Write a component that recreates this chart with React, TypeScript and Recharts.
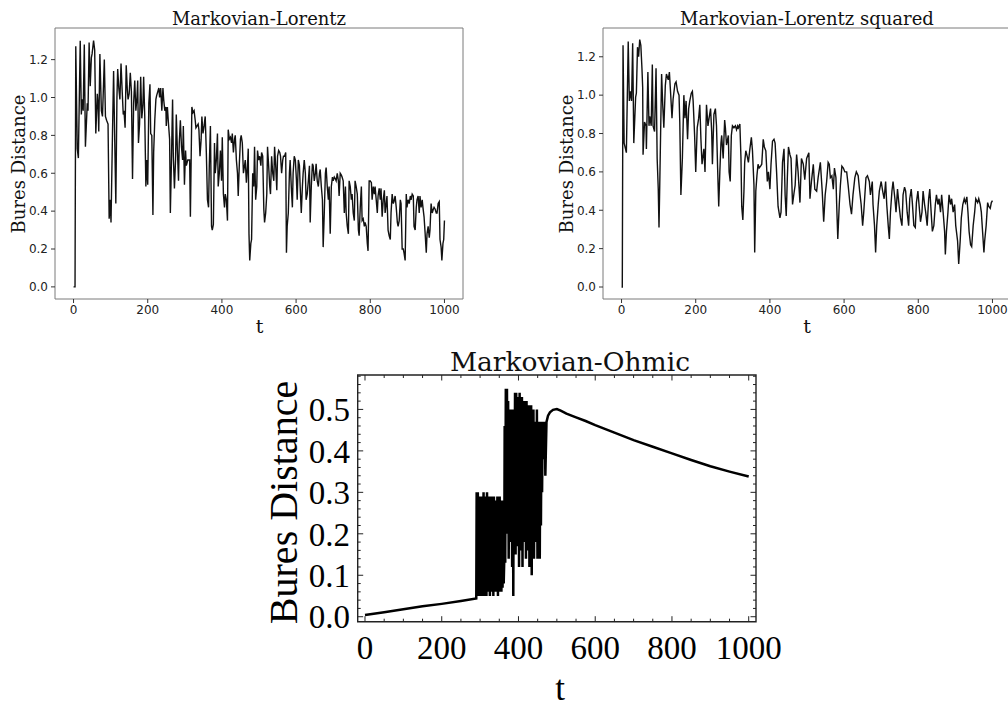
import { Line, LineChart, ReferenceArea, ReferenceLine, XAxis, YAxis } from "recharts";

// [t, Bures distance]
const lorentzPoints: [number, number][] = [
  [0,0],[4,0],[6,1.27],[10,0.73],[13,0.68],[18,1.30],[21,0.91],[23,0.99],[26,0.93],[29,1.28],[32,0.74],[37,0.97],[39,0.93],[42,1.29],[45,1.06],[48,1.21],[50,1.23],[54,1.30],[57,1.25],[58,1.11],[60,0.81],[64,1.02],[66,0.97],[68,0.82],[71,1.23],[75,0.93],[78,0.90],[83,1.20],[86,0.90],[89,0.88],[93,0.86],[96,0.36],[99,0.46],[101,0.34],[105,0.81],[108,1.14],[111,0.78],[114,0.44],[117,1.00],[119,1.15],[122,1.05],[125,0.99],[128,1.18],[131,1.04],[134,0.91],[136,0.93],[139,0.84],[142,1.17],[145,1.04],[147,0.99],[150,1.02],[153,1.13],[156,1.03],[159,0.57],[162,0.97],[165,1.09],[168,0.93],[171,1.00],[173,1.09],[175,0.76],[178,0.86],[181,1.11],[184,0.89],[187,0.96],[189,1.11],[192,0.90],[195,0.53],[197,0.67],[200,0.54],[203,0.97],[206,1.07],[208,0.81],[211,0.80],[214,0.38],[216,0.71],[219,0.88],[222,0.99],[224,1.01],[227,1.03],[230,1.05],[232,1.00],[235,1.05],[238,0.93],[241,1.05],[243,0.99],[246,0.93],[249,0.95],[250,0.85],[253,0.95],[256,0.86],[259,0.78],[261,0.39],[264,0.67],[267,0.99],[269,0.69],[272,0.52],[275,0.67],[277,0.91],[280,0.72],[283,0.56],[285,0.76],[288,0.88],[291,0.74],[294,0.67],[296,0.85],[299,0.54],[302,0.72],[304,0.64],[308,0.67],[313,0.67],[315,0.37],[319,0.95],[322,0.92],[325,0.93],[328,0.88],[330,0.84],[333,0.85],[336,0.86],[338,0.83],[341,0.69],[344,0.78],[346,0.90],[349,0.81],[352,0.85],[355,0.90],[358,0.71],[361,0.46],[364,0.42],[366,0.64],[369,0.85],[372,0.32],[374,0.30],[377,0.33],[380,0.76],[382,0.60],[385,0.67],[388,0.81],[390,0.53],[393,0.60],[396,0.72],[399,0.56],[401,0.79],[404,0.49],[407,0.42],[409,0.49],[412,0.46],[415,0.35],[417,0.83],[420,0.78],[423,0.79],[426,0.76],[428,0.81],[431,0.71],[434,0.78],[436,0.80],[439,0.67],[442,0.60],[444,0.48],[447,0.65],[450,0.78],[452,0.80],[455,0.76],[458,0.60],[461,0.64],[463,0.67],[466,0.55],[469,0.64],[471,0.73],[473,0.28],[475,0.14],[478,0.23],[480,0.25],[483,0.60],[486,0.53],[488,0.74],[491,0.46],[494,0.53],[496,0.72],[499,0.67],[502,0.69],[505,0.64],[507,0.71],[510,0.69],[513,0.41],[515,0.34],[518,0.39],[521,0.49],[523,0.74],[526,0.64],[529,0.53],[531,0.49],[534,0.69],[537,0.60],[540,0.56],[542,0.74],[545,0.64],[548,0.51],[550,0.69],[553,0.72],[556,0.71],[558,0.69],[561,0.60],[564,0.67],[566,0.69],[569,0.69],[572,0.71],[574,0.18],[576,0.32],[579,0.39],[582,0.60],[584,0.67],[587,0.53],[590,0.42],[592,0.60],[595,0.69],[598,0.67],[601,0.56],[603,0.46],[606,0.67],[609,0.64],[611,0.53],[614,0.39],[617,0.53],[619,0.60],[622,0.67],[625,0.60],[627,0.46],[630,0.49],[633,0.56],[636,0.64],[638,0.34],[641,0.53],[644,0.65],[646,0.64],[649,0.56],[652,0.60],[654,0.65],[657,0.56],[660,0.53],[663,0.60],[665,0.62],[668,0.53],[671,0.46],[673,0.21],[676,0.39],[679,0.60],[681,0.63],[684,0.53],[687,0.46],[689,0.53],[692,0.28],[695,0.53],[698,0.58],[700,0.56],[703,0.58],[706,0.57],[708,0.56],[711,0.60],[714,0.56],[716,0.48],[719,0.60],[722,0.59],[724,0.58],[727,0.56],[730,0.39],[733,0.53],[735,0.39],[738,0.32],[741,0.28],[743,0.56],[746,0.53],[749,0.46],[751,0.49],[754,0.39],[757,0.35],[759,0.56],[762,0.53],[765,0.49],[768,0.30],[770,0.27],[773,0.42],[776,0.53],[778,0.35],[781,0.36],[784,0.32],[786,0.34],[789,0.32],[792,0.23],[794,0.19],[797,0.56],[800,0.56],[803,0.55],[805,0.46],[808,0.53],[811,0.49],[813,0.53],[816,0.46],[819,0.39],[821,0.48],[824,0.52],[827,0.46],[829,0.52],[832,0.37],[835,0.46],[838,0.51],[840,0.39],[843,0.44],[845,0.48],[848,0.30],[851,0.27],[854,0.25],[856,0.39],[859,0.49],[862,0.44],[864,0.45],[867,0.48],[870,0.42],[873,0.34],[875,0.32],[878,0.35],[881,0.46],[883,0.44],[886,0.20],[889,0.20],[891,0.18],[894,0.14],[897,0.49],[899,0.42],[902,0.46],[905,0.44],[908,0.48],[910,0.46],[913,0.49],[916,0.48],[918,0.32],[921,0.30],[924,0.42],[926,0.46],[929,0.48],[932,0.39],[934,0.48],[937,0.42],[940,0.46],[942,0.42],[945,0.37],[948,0.28],[951,0.18],[953,0.28],[956,0.32],[959,0.26],[961,0.30],[964,0.44],[967,0.39],[970,0.41],[972,0.42],[975,0.41],[978,0.39],[980,0.39],[983,0.44],[986,0.45],[988,0.25],[991,0.21],[993,0.14],[996,0.23],[998,0.25],[1000,0.35],
];

const lorentzSquaredPoints: [number, number][] = [
  [0,0],[2,0],[4,1.26],[7,0.75],[13,0.70],[18,1.28],[21,0.97],[24,1.02],[27,0.97],[30,1.27],[33,0.75],[38,0.99],[40,1.01],[43,1.25],[46,1.20],[49,1.29],[52,1.26],[55,1.14],[57,1.04],[58,0.69],[62,0.86],[66,0.84],[67,0.72],[71,1.12],[74,0.84],[76,0.89],[80,0.84],[83,1.16],[85,0.84],[89,0.81],[93,1.14],[96,0.67],[99,0.51],[101,0.31],[103,0.53],[108,1.11],[111,0.95],[114,0.83],[118,1.05],[121,1.11],[126,1.08],[129,1.12],[132,1.02],[136,0.88],[139,0.98],[144,1.06],[147,1.07],[151,1.02],[155,1.00],[157,0.86],[160,0.48],[164,0.67],[168,1.00],[171,0.88],[174,0.97],[178,0.77],[181,0.93],[184,0.97],[188,1.01],[191,1.02],[193,0.97],[197,0.79],[200,0.60],[204,0.83],[208,0.88],[211,0.95],[214,0.77],[217,0.64],[222,0.72],[225,0.60],[229,0.95],[233,0.84],[236,0.88],[240,0.93],[243,0.81],[245,0.64],[249,0.90],[253,0.93],[256,0.84],[259,0.62],[262,0.42],[265,0.60],[268,0.75],[270,0.79],[274,0.67],[278,0.87],[280,0.83],[283,0.74],[288,0.79],[290,0.60],[293,0.55],[296,0.79],[299,0.84],[303,0.83],[307,0.84],[310,0.82],[313,0.84],[315,0.83],[319,0.85],[322,0.67],[324,0.42],[327,0.35],[330,0.50],[332,0.65],[335,0.71],[339,0.68],[342,0.65],[346,0.72],[350,0.78],[353,0.71],[357,0.53],[359,0.18],[362,0.50],[365,0.58],[368,0.64],[371,0.62],[375,0.63],[378,0.64],[382,0.77],[385,0.73],[389,0.71],[393,0.55],[396,0.60],[400,0.51],[403,0.64],[407,0.76],[411,0.77],[414,0.75],[418,0.60],[422,0.42],[427,0.36],[430,0.39],[434,0.65],[438,0.72],[441,0.48],[444,0.37],[447,0.57],[450,0.73],[454,0.69],[457,0.67],[461,0.43],[465,0.49],[468,0.53],[472,0.69],[476,0.60],[481,0.44],[485,0.67],[490,0.64],[494,0.56],[499,0.67],[505,0.70],[508,0.46],[512,0.55],[517,0.64],[521,0.51],[526,0.50],[530,0.57],[536,0.65],[541,0.50],[545,0.34],[549,0.48],[553,0.55],[557,0.65],[560,0.64],[563,0.57],[567,0.58],[571,0.51],[574,0.62],[578,0.57],[580,0.43],[583,0.25],[587,0.43],[590,0.53],[594,0.63],[598,0.62],[602,0.60],[607,0.60],[611,0.53],[616,0.43],[620,0.38],[624,0.48],[629,0.57],[633,0.60],[638,0.58],[642,0.50],[646,0.43],[650,0.32],[653,0.39],[659,0.57],[663,0.58],[668,0.55],[671,0.48],[676,0.55],[678,0.43],[682,0.32],[685,0.18],[688,0.32],[692,0.43],[695,0.50],[700,0.55],[704,0.50],[708,0.46],[712,0.55],[715,0.43],[719,0.32],[722,0.25],[725,0.39],[729,0.50],[732,0.55],[737,0.46],[740,0.39],[744,0.51],[748,0.43],[752,0.36],[756,0.32],[759,0.48],[763,0.52],[766,0.50],[770,0.39],[774,0.32],[777,0.46],[781,0.51],[784,0.44],[788,0.32],[792,0.31],[795,0.44],[799,0.50],[802,0.43],[806,0.34],[810,0.39],[813,0.50],[817,0.43],[820,0.39],[824,0.32],[828,0.46],[831,0.51],[835,0.38],[838,0.29],[842,0.32],[846,0.43],[849,0.48],[853,0.43],[856,0.46],[860,0.39],[863,0.48],[867,0.39],[871,0.29],[873,0.17],[876,0.29],[880,0.39],[883,0.48],[887,0.43],[890,0.46],[894,0.39],[898,0.43],[901,0.32],[906,0.24],[909,0.12],[913,0.24],[916,0.36],[920,0.43],[924,0.46],[927,0.44],[931,0.47],[934,0.39],[937,0.29],[941,0.22],[944,0.21],[948,0.32],[952,0.39],[955,0.46],[960,0.44],[963,0.46],[967,0.43],[970,0.39],[974,0.27],[977,0.18],[979,0.24],[983,0.32],[987,0.44],[990,0.42],[994,0.41],[997,0.44],[1000,0.45],
];

const ohmicPoints: [number, number][] = [
  [0,0.004],[50,0.011],[100,0.018],[150,0.025],[200,0.031],[250,0.038],[290,0.044],
  [291,0.30],[292.5,0.05],[294,0.30],[295.5,0.21],[297,0.29],[298.5,0.05],[300,0.27],[301.5,0.06],[303,0.29],[304.5,0.05],[306,0.29],[307.5,0.07],[309,0.30],[310.5,0.05],[312,0.29],[313.5,0.06],[315,0.29],[316.5,0.05],[318,0.30],[319.5,0.07],[321,0.29],[322.5,0.06],[324,0.29],[325.5,0.05],[327,0.28],[328.5,0.07],[330,0.29],[331.5,0.06],[333,0.28],[334.5,0.05],[336,0.29],[337.5,0.07],[339,0.28],[340.5,0.06],[342,0.28],[343.5,0.07],[345,0.29],[346.5,0.05],[348,0.28],[349.5,0.06],[351,0.29],[352.5,0.07],[354,0.28],[355.5,0.06],[357,0.28],[358.5,0.07],[360,0.27],[361.5,0.08],[363,0.14],
  [364,0.46],[365.5,0.13],[367,0.55],[368.5,0.25],[370,0.55],[371.5,0.20],[373,0.52],[374.5,0.14],[376,0.50],[377.5,0.18],[379,0.46],[380.5,0.22],[382,0.50],[383.5,0.12],[385,0.49],[386.5,0.05],[388,0.50],[389.5,0.19],[391,0.54],[392.5,0.15],[394,0.54],[395.5,0.22],[397,0.50],[398.5,0.17],[400,0.53],[401.5,0.12],[403,0.54],[404.5,0.16],[406,0.49],[407.5,0.22],[409,0.53],[410.5,0.12],[412,0.50],[413.5,0.18],[415,0.52],[416.5,0.21],[418,0.48],[419.5,0.14],[421,0.52],[422.5,0.16],[424,0.49],[425.5,0.26],[427,0.51],[428.5,0.12],[430,0.50],[431.5,0.18],[433,0.51],[434.5,0.10],[436,0.47],[437.5,0.20],[439,0.50],[440.5,0.14],[442,0.47],[443.5,0.24],[445,0.46],[446.5,0.18],[448,0.50],[449.5,0.14],[451,0.47],[452.5,0.25],[454,0.46],[455.5,0.14],[457,0.47],[458.5,0.22],[460,0.46],[461.5,0.30],[463,0.47],[464.5,0.38],[466,0.47],[467.5,0.40],[469,0.47],[470,0.34],
  [473,0.47],[477,0.485],[482,0.493],[490,0.499],[500,0.501],[510,0.497],[525,0.49],[550,0.481],[575,0.472],[600,0.462],[650,0.444],[700,0.426],[750,0.41],[800,0.394],[850,0.378],[900,0.363],[950,0.35],[1000,0.338],
];

const topXTicks = [0, 200, 400, 600, 800, 1000];
const topYTicks = [0, 0.2, 0.4, 0.6, 0.8, 1.0, 1.2];
const ohmicXTicks = [0, 200, 400, 600, 800, 1000];
const ohmicXMinor = [50, 100, 150, 250, 300, 350, 450, 500, 550, 650, 700, 750, 850, 900, 950];
const ohmicYTicks = [0, 0.1, 0.2, 0.3, 0.4, 0.5];
const ohmicYMinor = [
  0.02, 0.04, 0.06, 0.08, 0.12, 0.14, 0.16, 0.18, 0.22, 0.24, 0.26, 0.28,
  0.32, 0.34, 0.36, 0.38, 0.42, 0.44, 0.46, 0.48, 0.52, 0.54, 0.56, 0.58,
];

const toRows = (pts: [number, number][]) => pts.map(([t, v]) => ({ t, v }));

const topTick = { fontSize: 12, fontFamily: "DejaVu Sans", fill: "#222" };
const ohmicTick = { fontSize: 33, fontFamily: "Liberation Serif", fill: "#000" };

const TOP_X: [number, number] = [-50, 1050];
const OHMIC_X: [number, number] = [-19, 1019];
const OHMIC_Y: [number, number] = [-0.012, 0.583];
// plot box of the ohmic panel in px, used to turn tick lengths into data units
const OHMIC_W = 398.3;
const OHMIC_H = 246.7;

function TopPanel({
  points,
  yDomain,
  left,
}: {
  points: [number, number][];
  yDomain: [number, number];
  left: number;
}) {
  return (
    <div style={{ position: "absolute", left, top: 0 }}>
      <LineChart
        width={470}
        height={340}
        data={toRows(points)}
        margin={{ top: 28, right: 7, bottom: 0, left: 0 }}
      >
        <XAxis
          type="number"
          dataKey="t"
          domain={TOP_X}
          ticks={topXTicks}
          allowDataOverflow
          interval={0}
          height={41}
          axisLine={false}
          tickSize={4}
          tickMargin={2}
          tickLine={{ stroke: "#333" }}
          tick={topTick}
        />
        <YAxis
          type="number"
          domain={yDomain}
          ticks={topYTicks}
          allowDataOverflow
          interval={0}
          width={55}
          axisLine={false}
          tickSize={4}
          tickMargin={3}
          tickLine={{ stroke: "#333" }}
          tick={topTick}
          tickFormatter={(v: number) => v.toFixed(1)}
        />
        <ReferenceArea
          x1={TOP_X[0]}
          x2={TOP_X[1]}
          y1={yDomain[0]}
          y2={yDomain[1]}
          fill="none"
          stroke="#7a7a7a"
          strokeWidth={1}
          ifOverflow="visible"
        />
        <Line
          type="linear"
          dataKey="v"
          stroke="#111"
          strokeWidth={1.4}
          dot={false}
          isAnimationActive={false}
        />
      </LineChart>
    </div>
  );
}

function OhmicPanel() {
  const pxX = (OHMIC_X[1] - OHMIC_X[0]) / OHMIC_W;
  const pxY = (OHMIC_Y[1] - OHMIC_Y[0]) / OHMIC_H;
  const [x0, x1] = OHMIC_X;
  const [y0, y1] = OHMIC_Y;

  const xTickLines = (xs: number[], len: number, key: string) =>
    xs.flatMap((x) => [
      <ReferenceLine key={`${key}b${x}`} segment={[{ x, y: y0 }, { x, y: y0 + len * pxY }]} stroke="#222" ifOverflow="visible" />,
      <ReferenceLine key={`${key}t${x}`} segment={[{ x, y: y1 }, { x, y: y1 - len * pxY }]} stroke="#222" ifOverflow="visible" />,
    ]);
  const yTickLines = (ys: number[], len: number, key: string) =>
    ys.flatMap((y) => [
      <ReferenceLine key={`${key}l${y}`} segment={[{ x: x0, y }, { x: x0 + len * pxX, y }]} stroke="#222" ifOverflow="visible" />,
      <ReferenceLine key={`${key}r${y}`} segment={[{ x: x1, y }, { x: x1 - len * pxX, y }]} stroke="#222" ifOverflow="visible" />,
    ]);

  return (
    <div style={{ position: "absolute", left: 260, top: 340 }}>
      <LineChart
        width={540}
        height={369}
        data={toRows(ohmicPoints)}
        margin={{ top: 35, right: 44, bottom: 0, left: 0 }}
      >
        <XAxis
          type="number"
          dataKey="t"
          domain={OHMIC_X}
          ticks={ohmicXTicks}
          allowDataOverflow
          interval={0}
          height={87.3}
          axisLine={false}
          tickLine={false}
          tickSize={0}
          tickMargin={14}
          tick={ohmicTick}
        />
        <YAxis
          type="number"
          domain={OHMIC_Y}
          ticks={ohmicYTicks}
          allowDataOverflow
          interval={0}
          width={97.7}
          axisLine={false}
          tickLine={false}
          tickSize={0}
          tickMargin={7.7}
          tick={ohmicTick}
          tickFormatter={(v: number) => v.toFixed(1)}
        />
        <ReferenceArea
          x1={x0}
          x2={x1}
          y1={y0}
          y2={y1}
          fill="none"
          stroke="#222"
          strokeWidth={1.4}
          ifOverflow="visible"
        />
        {xTickLines(ohmicXTicks, 5.5, "M")}
        {xTickLines(ohmicXMinor, 3, "m")}
        {yTickLines(ohmicYTicks, 5.5, "M")}
        {yTickLines(ohmicYMinor, 3, "m")}
        <Line
          type="linear"
          dataKey="v"
          stroke="#000"
          strokeWidth={2.5}
          dot={false}
          isAnimationActive={false}
        />
      </LineChart>
    </div>
  );
}

export default function App() {
  return (
    <div
      style={{
        position: "fixed",
        left: 0,
        top: 0,
        width: 1008,
        height: 709,
        background: "#fff",
        overflow: "hidden",
      }}
    >
      <TopPanel points={lorentzPoints} yDomain={[-0.064, 1.367]} left={0} />
      <TopPanel points={lorentzSquaredPoints} yDomain={[-0.0625, 1.35]} left={548} />
      <OhmicPanel />
      <svg
        width={1008}
        height={709}
        style={{ position: "absolute", left: 0, top: 0, pointerEvents: "none" }}
      >
        <g fontFamily="DejaVu Serif" fill="#111" textAnchor="middle">
          <text x={259} y={25} fontSize={18}>Markovian-Lorentz</text>
          <text x={807} y={25} fontSize={18}>Markovian-Lorentz squared</text>
          <text transform="translate(24.5 164) rotate(-90)" fontSize={18}>Bures Distance</text>
          <text transform="translate(572.5 164) rotate(-90)" fontSize={18}>Bures Distance</text>
          <text x={259.5} y={333} fontSize={19}>t</text>
          <text x={807} y={333} fontSize={19}>t</text>
          <text x={570} y={371} fontSize={26.5}>Markovian-Ohmic</text>
        </g>
        <g fontFamily="Liberation Serif" fill="#000" textAnchor="middle">
          <text transform="translate(296.5 502.5) rotate(-90)" fontSize={40}>Bures Distance</text>
          <text x={560} y={700} fontSize={35}>t</text>
        </g>
      </svg>
    </div>
  );
}
